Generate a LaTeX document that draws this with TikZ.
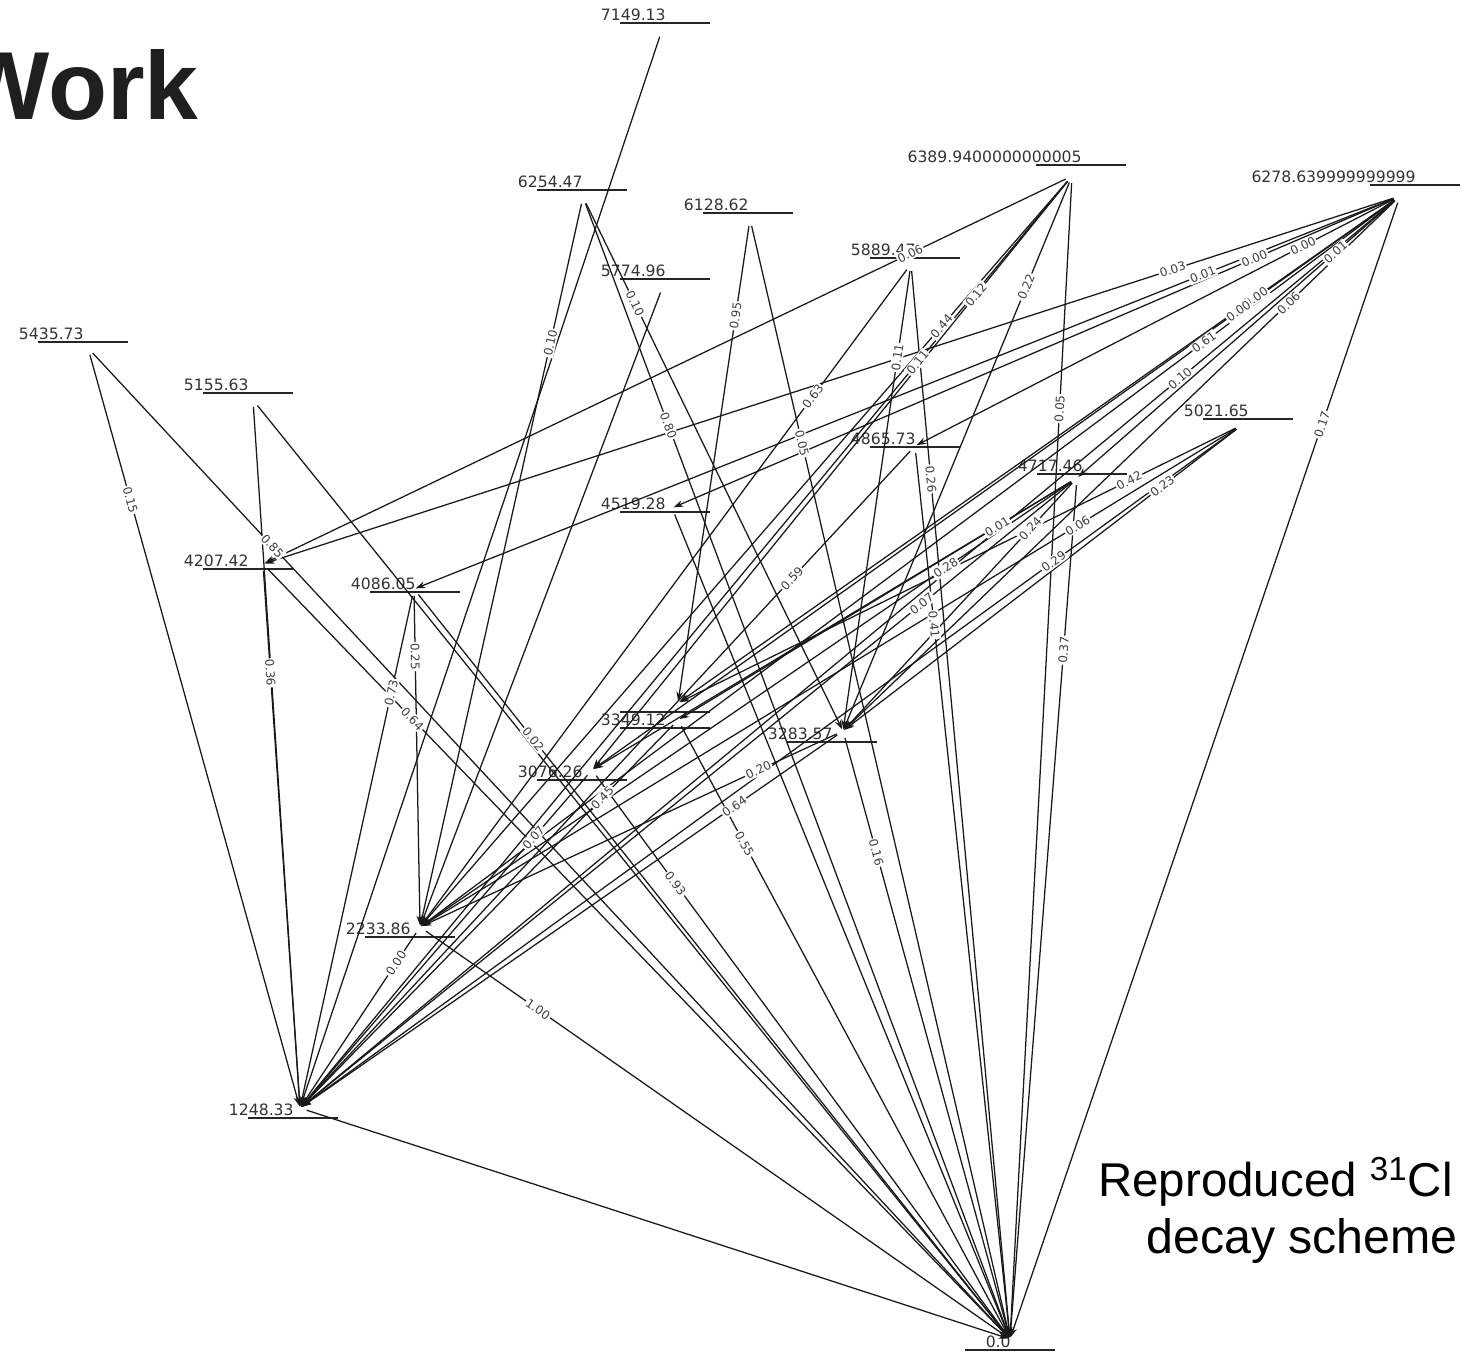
\documentclass[tikz,border=0pt]{standalone}
\usepackage{fontspec}
\setmainfont{DejaVu Sans}
\newfontfamily\slidefont{Liberation Sans}
\usetikzlibrary{arrows.meta}
\newcommand\lev[3]{% text, line centre x, line y
  \draw[levline] ({#2-45},#3) -- ({#2+45},#3);
  \node[levtext, anchor=base east] at ({#2+1},{#3-3}) {#1};}
\begin{document}
\begin{tikzpicture}[x=0.02cm,y=-0.02cm,
  levline/.style={line width=0.95pt, black!85},
  levtext/.style={font=\fontsize{8.9}{10}\selectfont, text=black!80, inner sep=0pt},
  edge/.style={line width=0.72pt, black!90, -{Stealth[length=5.5pt,width=3.8pt]}, shorten >=1pt, shorten <=4pt},
  elab/.style={font=\fontsize{6.8}{8}\selectfont, text=black!75, fill=white, inner sep=0.7pt, sloped, pos=0.2}
]
\useasboundingbox (0,0) rectangle (1471,1352);
% node centres
\coordinate (A) at (662,30);
\coordinate (B) at (583,197);
\coordinate (C) at (750,219);
\coordinate (D) at (663,286);
\coordinate (E) at (1072,176);
\coordinate (F) at (1400,196);
\coordinate (G) at (911,264);
\coordinate (H) at (88,348);
\coordinate (I) at (253,400);
\coordinate (J) at (1242,425);
\coordinate (K) at (915,446);
\coordinate (L) at (1077,478);
\coordinate (M) at (672,508);
\coordinate (N) at (263,564);
\coordinate (O) at (414,589);
\coordinate (P1) at (678,703);
\coordinate (P) at (678,720);
\coordinate (Q) at (843,731);
\coordinate (R) at (592,770);
\coordinate (S) at (420,927);
\coordinate (T) at (300,1108);
\coordinate (U) at (1010,1339);
% levels
\lev{7149.13}{665}{23}
\lev{6254.47}{582}{190}
\lev{6128.62}{748}{213}
\lev{5774.96}{665}{279}
\lev{6389.9400000000005}{1081}{165}
\lev{6278.639999999999}{1415}{185}
\lev{5889.47}{915}{258}
\lev{5435.73}{83}{342}
\lev{5155.63}{248}{393}
\lev{5021.65}{1248}{419}
\lev{4865.73}{915}{447}
\lev{4717.46}{1082}{474}
\lev{4519.28}{665}{512}
\lev{4207.42}{248}{569}
\lev{4086.05}{415}{592}
\draw[levline] (620,712) -- (710,712);
\lev{3349.12}{665}{728}
\lev{3283.57}{832}{742}
\lev{3076.26}{582}{780}
\lev{2233.86}{410}{937}
\lev{1248.33}{293}{1118}
\lev{0.0}{1010}{1350}
% edges
\newcommand\edgelist{%
\E{A}{T}{}\E{B}{S}{0.10}\E{B}{Q}{0.10}\E{B}{U}{0.80}
\E{C}{P1}{0.95}\E{C}{U}{0.05}\E{D}{S}{}
\E{E}{N}{0.06}\E{E}{R}{0.12}\E{E}{S}{0.44}\E{E}{T}{0.11}\E{E}{Q}{0.22}\E{E}{U}{0.05}
\E{F}{N}{0.03}\E{F}{O}{0.01}\E{F}{M}{0.00}\E{F}{K}{0.00}\E{F}{L}{0.01}\E{F}{S}{0.61}
\E{F}{P1}{0.00}\E{F}{R}{0.00}\E{F}{Q}{0.06}\E{F}{T}{0.10}\E{F}{U}{0.17}
\E{G}{S}{0.63}\E{G}{Q}{0.11}\E{G}{U}{0.26}
\E{H}{T}{0.15}\E{H}{U}{0.85}\E{I}{T}{}\E{I}{U}{}
\E{J}{P1}{0.42}\E{J}{Q}{0.23}\E{J}{S}{0.06}\E{J}{T}{0.29}
\E{K}{T}{0.59}\E{K}{U}{0.41}
\E{L}{Q}{0.24}\E{L}{P}{0.01}\E{L}{R}{}\E{L}{S}{0.28}\E{L}{T}{0.07}\E{L}{U}{0.37}
\E{M}{U}{}
\E{N}{T}{0.36}\E{N}{U}{0.64}
\E{O}{T}{0.73}\E{O}{S}{0.25}\E{O}{U}{0.02}
\E{P}{T}{0.45}\E{P}{U}{0.55}
\E{Q}{U}{0.16}\E{Q}{S}{0.20}\E{Q}{T}{0.64}
\E{R}{T}{0.07}\E{R}{U}{0.93}
\E{S}{T}{0.00}\E{S}{U}{1.00}\E{T}{U}{}}
\def\E#1#2#3{\draw[edge] (#1) -- (#2);}
\edgelist
\def\E#1#2#3{\if\relax\detokenize{#3}\relax\else\path (#1) -- node[elab]{#3} (#2);\fi}
\edgelist
% slide texts
\node[anchor=base east, inner sep=0pt, text=black!88, font=\slidefont\bfseries\fontsize{55}{60}\selectfont] (work) at (199,119) {Work};
\node[anchor=base west, inner sep=0pt, font=\slidefont\fontsize{27}{30}\selectfont] (cap1) at (1098,1196) {Reproduced \textsuperscript{31}Cl};
\node[anchor=base west, inner sep=0pt, font=\slidefont\fontsize{27.5}{30}\selectfont] (cap2) at (1146,1253) {decay scheme};
\end{tikzpicture}
\end{document}
